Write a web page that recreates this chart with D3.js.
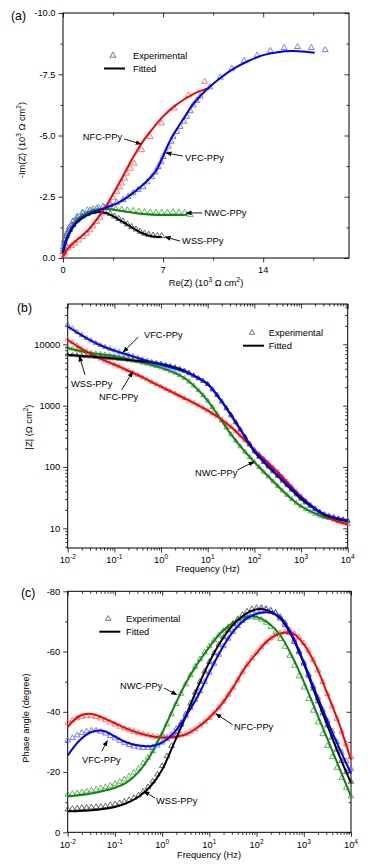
<!DOCTYPE html>
<html>
<head>
<meta charset="utf-8">
<script src="https://cdn.jsdelivr.net/npm/d3@7"></script>
<style>
body { margin: 0; background: #fff; }
svg { display: block; font-family: "Liberation Sans", Arial, sans-serif; }
</style>
</head>
<body>
<div id="chart"></div>
<script>
// ---------- (a) Nyquist, 10^3 ohm cm2, pairs are [Re(Z), -Im(Z)] ----------
var nyqVFCexp = [[0.02,0.46],[0.1,0.75],[0.26,1.0],[0.45,1.25],[0.7,1.48],[1.0,1.65],[1.4,1.83],[1.9,1.95],[2.36,2.03],[2.8,2.1],[3.3,2.16],[3.75,2.26],[4.2,2.37],[4.55,2.5],[4.9,2.65],[5.25,2.78],[5.6,2.9],[5.9,3.1],[6.2,3.31],[6.45,3.5],[6.65,3.72],[6.85,3.92],[7.0,4.13],[7.2,4.35],[7.37,4.55],[7.55,4.75],[7.7,4.95],[7.95,5.15],[8.19,5.36],[8.45,5.57],[8.66,5.77],[8.9,6.0],[9.1,6.24],[9.35,6.42],[9.6,6.6],[10.27,6.97],[11.0,7.37],[11.8,7.73],[12.67,8.05],[13.58,8.27],[14.5,8.46],[15.47,8.58],[16.4,8.62],[17.36,8.58],[18.34,8.49]]
var nyqVFCfit = [[0,0.3],[0.3,0.85],[0.7,1.3],[1.2,1.6],[2,1.85],[3,2.05],[4,2.3],[5,2.7],[5.8,3.1],[6.5,3.55],[7,4.15],[7.5,4.8],[8,5.3],[8.5,5.75],[9,6.2],[9.5,6.55],[10,6.85],[11,7.35],[12,7.75],[13,8.05],[14,8.28],[15,8.4],[16,8.45],[17,8.42],[17.6,8.38]]
var nyqNFCexp = [[0.05,0.1],[0.14,0.2],[0.35,0.4],[0.6,0.5],[0.84,0.6],[1.1,0.72],[1.4,0.87],[1.65,1.0],[1.89,1.14],[2.1,1.3],[2.36,1.48],[2.6,1.65],[2.8,1.83],[3.05,2.05],[3.3,2.24],[3.5,2.45],[3.76,2.71],[3.95,2.9],[4.1,3.05],[4.3,3.25],[4.46,3.45],[4.7,3.65],[4.97,3.86],[5.5,4.41],[6.09,4.95],[6.88,5.5],[7.77,6.11],[8.77,6.65],[9.9,7.2]]
var nyqNFCfit = [[0,0.05],[0.3,0.35],[0.7,0.6],[1.2,0.85],[1.7,1.1],[2.2,1.45],[2.7,1.85],[3.2,2.3],[3.7,2.82],[4.2,3.35],[4.7,3.9],[5.2,4.4],[5.7,4.85],[6.3,5.3],[7,5.78],[7.8,6.2],[8.6,6.52],[9.4,6.77],[10.2,6.93]]
var nyqNWCexp = [[0.02,0.35],[0.1,0.7],[0.25,1.0],[0.45,1.25],[0.7,1.5],[1.0,1.7],[1.35,1.85],[1.7,1.95],[2.1,2.0],[2.5,2.05],[2.9,2.05],[3.3,2.03],[3.7,2.0],[4.1,1.98],[4.5,1.95],[4.9,1.93],[5.3,1.9],[5.7,1.88],[6.1,1.87],[6.5,1.86],[6.9,1.86],[7.3,1.86],[7.7,1.87],[8.1,1.86],[8.5,1.85],[8.9,1.76]]
var nyqNWCfit = [[0,0.3],[0.2,0.75],[0.5,1.15],[0.9,1.5],[1.4,1.75],[2,1.92],[2.6,2.0],[3.2,2.0],[4,1.93],[5,1.84],[6,1.78],[7,1.76],[8,1.76],[8.7,1.77]]
var nyqWSSexp = [[0.02,0.25],[0.1,0.6],[0.25,0.9],[0.45,1.15],[0.7,1.35],[1.0,1.55],[1.35,1.7],[1.7,1.8],[2.1,1.88],[2.5,1.92],[2.9,1.9],[3.3,1.8],[3.6,1.7],[3.9,1.6],[4.2,1.5],[4.5,1.38],[4.8,1.27],[5.1,1.17],[5.4,1.08],[5.7,1.0],[6.0,0.95],[6.3,0.92],[6.6,0.9],[6.9,0.9]]
var nyqWSSfit = [[0,0.2],[0.2,0.65],[0.5,1.05],[0.9,1.4],[1.4,1.65],[2,1.82],[2.6,1.88],[3.1,1.82],[3.6,1.68],[4.1,1.5],[4.6,1.32],[5.1,1.15],[5.6,1.0],[6.1,0.9],[6.6,0.86],[6.9,0.86]]

// ---------- frequency grids, log10(Hz) ----------
var expLogF = [-2,-1.9,-1.8,-1.7,-1.6,-1.5,-1.4,-1.3,-1.2,-1.1,-1,-0.9,-0.8,-0.7,-0.6,-0.5,-0.4,-0.3,-0.2,-0.1,0,0.1,0.2,0.3,0.4,0.5,0.6,0.7,0.8,0.9,1,1.1,1.2,1.3,1.4,1.5,1.6,1.7,1.8,1.9,2,2.1,2.2,2.3,2.4,2.5,2.6,2.7,2.8,2.9,3,3.1,3.2,3.3,3.4,3.5,3.6,3.7,3.8,3.9,4]
var fitLogF = [-2,-1.75,-1.5,-1.25,-1,-0.75,-0.5,-0.25,0,0.25,0.5,0.75,1,1.25,1.5,1.75,2,2.25,2.5,2.75,3,3.25,3.5,3.75,4]

// ---------- (b) |Z|, ohm cm2 ----------
var modVFCexp = [20900,18200,15800,14100,12600,11500,10500,9660,9020,8410,7940,7500,7080,6760,6380,6030,5690,5370,5130,4900,4680,4470,4270,4070,3850,3630,3350,3090,2790,2510,2240,1840,1480,1160,900,692,531,407,313,240,186,151,126,105,88.1,74.1,62.4,52.5,44.2,37.2,31.6,27.2,23.7,20.9,18.6,17.0,16.0,15.3,14.6,14.1,13.6]
var modVFCfit = [19500,14800,11500,9300,7900,6900,6000,5250,4700,4150,3600,2950,2250,1320,690,355,186,115,74,48,32,22.4,17,14.8,13.5]
var modWSSexp = [6760,6680,6610,6460,6380,6310,6240,6170,6030,5960,5890,5750,5690,5560,5430,5370,5250,5130,5010,4900,4790,4570,4420,4220,3980,3720,3430,3090,2790,2510,2240,1840,1500,1170,912,708,537,407,309,234,178,146,120,101,84.1,70.8,59.6,50.1,42.2,35.5,30.2,26.3,22.9,20.4,18.2,16.6,15.7,15.0,14.3,13.8,13.3]
var modWSSfit = [6760,6530,6310,6100,5890,5620,5370,5130,4790,4320,3720,2950,2240,1320,710,355,178,110,71,46,30,21.9,16.6,14.5,13.2]
var modNWCexp = [8910,8510,8130,7760,7500,7240,7080,6920,6760,6610,6460,6240,6030,5750,5500,5250,5010,4840,4620,4420,4170,3940,3670,3430,3130,2820,2450,2110,1780,1480,1200,944,733,569,437,339,269,216,176,145,120,100,83.2,70.0,58.2,49.0,41.2,35.1,29.9,26.0,22.9,20.4,18.6,17.2,16.0,15.1,14.6,14.1,13.8,13.5,13.2]
var modNWCfit = [8700,7850,7250,6840,6460,5890,5250,4730,4170,3550,2820,1950,1200,645,340,195,120,76,49,32.4,22.9,18.2,15.1,13.8,13.2]
var modNFCexp = [12000,10700,9550,8510,7670,6920,6310,5820,5370,5010,4680,4320,3980,3720,3430,3160,2880,2660,2430,2240,2040,1860,1720,1570,1450,1320,1200,1110,1010,923,832,750,676,596,519,447,380,324,272,229,191,162,136,116,97.7,83.2,69.2,57.5,47.9,39.8,33.1,28.2,24.3,21.1,18.4,16.2,14.8,13.8,13.0,12.3,11.7]
var modNFCfit = [11750,8900,6900,5620,4680,3850,3160,2540,2040,1640,1320,1060,830,630,447,295,190,126,83,52,33,22.4,16.2,13.2,11.7]

// ---------- (c) phase angle, degrees (plotted as negative) ----------
var phVFCexp = [30.5,31.3,32.2,33.0,33.5,33.8,33.8,33.4,32.8,32.0,31.2,30.4,29.6,29.0,28.5,28.2,28.0,28.0,28.2,28.8,29.8,31.0,32.5,34.4,36.4,38.6,41.3,44.0,46.9,50.0,53.0,56.0,59.0,61.8,64.3,66.6,68.5,70.2,71.6,72.7,73.5,73.9,74.0,73.7,72.9,71.6,69.6,67.0,63.8,60.2,56.4,52.5,48.5,44.6,40.7,37.0,33.5,30.0,26.6,23.6,21.0]
var phVFCfit = [25.5,30.5,33.3,33.7,31.8,29.8,28.8,28.6,29.8,33.0,38.5,45.0,53.0,60.5,66.5,70.5,72.5,73.0,71.5,65.5,56.5,46.5,37.0,28.0,19.5]
var phWSSexp = [7.6,7.8,8.0,8.1,8.2,8.3,8.4,8.5,8.7,9.0,9.3,9.7,10.2,10.7,11.4,12.3,13.5,15.0,16.9,19.2,22.0,25.3,28.7,32.2,35.7,39.2,42.8,46.4,50.0,53.4,56.6,59.5,62.3,64.8,67.1,69.1,70.8,72.2,73.3,74.1,74.5,74.5,74.2,73.6,72.8,71.0,68.8,66.2,63.2,59.8,56.0,52.0,47.7,43.5,39.5,35.5,31.5,27.5,23.7,20.0,16.8]
var phWSSfit = [7.0,7.1,7.3,7.7,8.4,9.7,11.8,15.2,20.8,29.5,38.5,48.0,56.5,63.5,68.8,72.3,74.0,73.6,71.0,65.0,56.0,45.5,35.5,25.5,16.4]
var phNWCexp = [12.5,12.8,13.0,13.3,13.6,13.9,14.2,14.6,15.0,15.5,16.1,16.8,17.6,18.6,19.8,21.2,22.9,24.8,27.0,29.6,32.5,35.8,39.2,42.6,46.0,49.2,52.2,55.0,57.5,59.8,61.8,63.7,65.4,66.9,68.2,69.3,70.2,70.9,71.3,71.4,71.2,70.6,69.6,68.2,66.4,64.2,61.6,58.6,55.3,51.8,48.1,44.3,40.4,36.5,32.6,28.7,25.0,21.4,18.0,14.8,11.9]
var phNWCfit = [11.9,12.3,12.9,13.7,14.8,16.6,20.0,25.5,33.0,41.5,49.5,56.0,61.5,66.3,69.5,71.5,71.5,69.5,65.5,58.5,50.0,40.5,31.0,21.5,11.9]
var phNFCexp = [36.3,37.2,37.9,38.4,38.6,38.6,38.3,37.8,37.2,36.5,35.8,35.1,34.5,33.9,33.4,33.0,32.6,32.2,31.9,31.7,31.6,31.6,31.7,31.9,32.2,32.6,33.4,34.3,35.5,36.7,38.0,39.6,41.4,43.4,45.7,48.0,50.6,53.2,55.7,57.8,59.7,61.5,63.1,64.4,65.4,66.1,66.5,66.5,65.9,64.7,62.8,60.3,57.2,53.7,49.9,45.9,41.8,37.6,33.4,29.2,25.0]
var phNFCfit = [35.0,38.6,39.3,38.0,36.2,34.4,33.0,32.0,31.5,31.6,32.5,34.8,38.0,42.3,48.0,54.5,59.5,63.8,66.0,66.2,62.5,55.5,46.0,36.0,24.0]

// ---------- labels / annotations (data units) ----------
var nyqXTicks = [0, 7, 14]
var nyqYTicks = [0, 2.5, 5, 7.5, 10]
var phaseYTicks = [0, 20, 40, 60, 80]
var modYTicks = [10, 100, 1000, 10000]
var nyqNotes = [
  {text: "NFC-PPy", tx: 4.13, ty: 4.94, anchor: "end", x1: 4.27, y1: 4.86, x2: 5.46, y2: 4.65},
  {text: "VFC-PPy", tx: 8.54, ty: 4.08, anchor: "start", x1: 8.4, y1: 4.16, x2: 7.21, y2: 4.29},
  {text: "NWC-PPy", tx: 9.87, ty: 1.84, anchor: "start", x1: 9.73, y1: 1.84, x2: 8.61, y2: 1.84},
  {text: "WSS-PPy", tx: 8.33, ty: 0.69, anchor: "start", x1: 8.19, y1: 0.69, x2: 7.14, y2: 0.86}
]
var modNotes = [
  {text: "VFC-PPy", tx: 0.431, ty: 14200, anchor: "start", x1: 0.326, y1: 13160, x2: 0.155, y2: 7480},
  {text: "WSS-PPy", tx: 0.0118, ty: 2310, anchor: "start", x1: 0.0235, y1: 3160, x2: 0.0177, y2: 6440},
  {text: "NFC-PPy", tx: 0.0469, ty: 1380, anchor: "start", x1: 0.1435, y1: 1800, x2: 0.247, y2: 3570},
  {text: "NWC-PPy", tx: 5.35, ty: 79.6, anchor: "start", x1: 43.1, y1: 89, x2: 98.2, y2: 122}
]
var phNotes = [
  {text: "NWC-PPy", tx: 0.128, ty: 48.5, anchor: "start", x1: 1.094, y1: 47.9, x2: 2.03, y2: 45.7},
  {text: "NFC-PPy", tx: 33.3, ty: 35.2, anchor: "start", x1: 31.2, y1: 35.7, x2: 13.8, y2: 39.3},
  {text: "VFC-PPy", tx: 0.0201, ty: 24.1, anchor: "start", x1: 0.0525, y1: 26.9, x2: 0.069, y2: 30.4},
  {text: "WSS-PPy", tx: 0.741, ty: 10.5, anchor: "start", x1: 0.706, y1: 11.4, x2: 0.413, y2: 13.6}
]

var lineColour = {VFC: "#0000ff", NFC: "#ff0000", NWC: "#0a8a0a", WSS: "#000000"}
var markColour = {VFC: "#5a5aff", NFC: "#ff5a5a", NWC: "#3fa03f", WSS: "#444444"}
var FS = 9.3

var svg = d3.select("#chart").append("svg").attr("width", 369).attr("height", 868)

svg.append("defs").append("marker")
    .attr("id", "arrow")
    .attr("viewBox", "0 0 10 10")
    .attr("refX", 9).attr("refY", 5)
    .attr("markerWidth", 6).attr("markerHeight", 6)
    .attr("markerUnits", "userSpaceOnUse")
    .attr("orient", "auto")
    .append("path").attr("d", "M0,1L10,5L0,9Z").attr("fill", "#000")

function logTicks(lo, hi, dlo, dhi) {
    var major = [], minor = []
    for (var e = lo; e <= hi; e++) {
        var p = Math.pow(10, e)
        major.push(p)
        for (var k = 2; k < 10; k++) minor.push(k * p)
    }
    for (var k = 1; k < 10; k++) minor.push(k * Math.pow(10, lo - 1))
    minor = minor.filter(function(v) { return v >= dlo && v <= dhi })
    major = major.filter(function(v) { return v >= dlo && v <= dhi })
    return {major: major, minor: minor}
}

function drawTicks(g, x, y, xt, yt) {
    var xr = x.range(), yr = y.range()
    var sides = [
        {make: d3.axisBottom, s: x, t: "translate(0," + yr[0] + ")", sign: 1, v: xt},
        {make: d3.axisTop, s: x, t: "translate(0," + yr[1] + ")", sign: -1, v: xt},
        {make: d3.axisLeft, s: y, t: "translate(" + xr[0] + ",0)", sign: 1, v: yt},
        {make: d3.axisRight, s: y, t: "translate(" + xr[1] + ",0)", sign: -1, v: yt}
    ]
    sides.forEach(function(sd) {
        [[sd.v.major, 4.5], [sd.v.minor, 2.5]].forEach(function(p) {
            var ax = sd.make(sd.s).tickValues(p[0]).tickSize(p[1] * sd.sign).tickFormat("")
            var a = g.append("g").attr("transform", sd.t).call(ax)
            a.select(".domain").remove()
            a.selectAll("line").attr("stroke", "#000").attr("stroke-width", 0.8)
        })
    })
    g.append("rect")
        .attr("x", xr[0]).attr("y", yr[1])
        .attr("width", xr[1] - xr[0]).attr("height", yr[0] - yr[1])
        .attr("fill", "none").attr("stroke", "#000").attr("stroke-width", 1)
}

function richText(sel, parts, size) {
    // parts: [string, isSuperscript]
    var shift = 0
    parts.forEach(function(p) {
        var want = p[1] ? -3.6 : 0
        sel.append("tspan")
            .attr("dy", want - shift)
            .style("font-size", (p[1] ? size * 0.7 : size) + "px")
            .text(p[0])
        shift = want
    })
}

function xTitle(g, cx, cy, parts) {
    var t = g.append("text").attr("x", cx).attr("y", cy).attr("dy", "0.35em")
        .attr("text-anchor", "middle").style("font-size", FS + "px")
    richText(t, parts, FS)
}

function yTitle(g, cx, cy, parts) {
    var t = g.append("text").attr("transform", "translate(" + cx + "," + cy + ") rotate(-90)")
        .attr("dy", "0.35em").attr("text-anchor", "middle").style("font-size", FS + "px")
    richText(t, parts, FS)
}

function panelLetter(g, x, y, s) {
    g.append("text").attr("x", x).attr("y", y).attr("dy", "0.35em")
        .style("font-size", "12.3px").text(s)
}

function logXLabels(g, x, y0) {
    [-2, -1, 0, 1, 2, 3, 4].forEach(function(e) {
        var t = g.append("text").attr("x", x(Math.pow(10, e))).attr("y", y0)
            .attr("text-anchor", "middle").style("font-size", FS + "px")
        richText(t, [["10", 0], [String(e), 1]], FS)
    })
}

function yLabels(g, y, xr, vals, fmt) {
    g.selectAll(null).data(vals).enter().append("text")
        .attr("x", xr - 7.5).attr("y", function(d) { return y(d) })
        .attr("dy", "0.35em").attr("text-anchor", "end")
        .style("font-size", FS + "px").text(fmt)
}

function markers(g, pts, colour, size) {
    var sym = d3.symbol(d3.symbolTriangle, size)
    g.append("g").selectAll("path").data(pts).enter().append("path")
        .attr("d", sym)
        .attr("transform", function(d) { return "translate(" + d[0] + "," + d[1] + ")" })
        .attr("fill", "none").attr("stroke", colour).attr("stroke-width", 0.8)
}

function fitLine(g, pts, colour) {
    g.append("path").datum(pts)
        .attr("d", d3.line().curve(d3.curveCatmullRom.alpha(0.5)))
        .attr("fill", "none").attr("stroke", colour).attr("stroke-width", 2)
}

function notes(g, x, y, list) {
    list.forEach(function(n) {
        g.append("line")
            .attr("x1", x(n.x1)).attr("y1", y(n.y1)).attr("x2", x(n.x2)).attr("y2", y(n.y2))
            .attr("stroke", "#000").attr("stroke-width", 0.9).attr("marker-end", "url(#arrow)")
        g.append("text").attr("x", x(n.tx)).attr("y", y(n.ty)).attr("dy", "0.35em")
            .attr("text-anchor", n.anchor).style("font-size", FS + "px").text(n.text)
    })
}

function legend(g, lx, ly, tx, size) {
    markers(g, [[lx, ly]], "#555", size)
    g.append("text").attr("x", tx).attr("y", ly).attr("dy", "0.35em").style("font-size", FS + "px").text("Experimental")
    g.append("line").attr("x1", lx - 9).attr("x2", lx + 12).attr("y1", ly + 13).attr("y2", ly + 13)
        .attr("stroke", "#000").attr("stroke-width", 2)
    g.append("text").attr("x", tx).attr("y", ly + 13).attr("dy", "0.35em").style("font-size", FS + "px").text("Fitted")
}

// ===================== (a) =====================
;(function() {
    var g = svg.append("g")
    var x = d3.scaleLinear().domain([0, 20]).range([63, 349])
    var y = d3.scaleLinear().domain([0, 10]).range([258, 13])
    drawTicks(g, x, y, {major: nyqXTicks, minor: [3.5, 10.5, 17.5]},
        {major: nyqYTicks, minor: [1.25, 3.75, 6.25, 8.75]})

    var sets = [
        ["NWC", nyqNWCexp, nyqNWCfit], ["WSS", nyqWSSexp, nyqWSSfit],
        ["NFC", nyqNFCexp, nyqNFCfit], ["VFC", nyqVFCexp, nyqVFCfit]
    ]
    sets.forEach(function(s) {
        markers(g, s[1].map(function(d) { return [x(d[0]), y(d[1])] }), markColour[s[0]], 15)
    })
    sets.forEach(function(s) {
        fitLine(g, s[2].map(function(d) { return [x(d[0]), y(d[1])] }), lineColour[s[0]])
    })

    g.selectAll(null).data(nyqXTicks).enter().append("text")
        .attr("x", function(d) { return x(d) }).attr("y", 270).attr("dy", "0.35em")
        .attr("text-anchor", "middle").style("font-size", FS + "px").text(function(d) { return d })
    yLabels(g, y, 63, nyqYTicks, function(d) { return d === 0 ? "0.0" : "-" + d.toFixed(1) })
    xTitle(g, 206, 285.5, [["Re(Z) (10", 0], ["3", 1], [" \u03A9 cm", 0], ["2", 1], [")", 0]])
    yTitle(g, 25, 140, [["-Im(Z) (10", 0], ["3", 1], [" \u03A9 cm", 0], ["2", 1], [")", 0]])
    notes(g, x, y, nyqNotes)
    legend(g, 113, 55.5, 133, 15)
    panelLetter(g, 11, 16, "(a)")
})()

// ===================== (b) =====================
;(function() {
    var g = svg.append("g")
    var x = d3.scaleLog().domain([1e-2, 1e4]).range([67.7, 347.7])
    var y = d3.scaleLog().domain([4.78, 45400]).range([548, 304])
    drawTicks(g, x, y, logTicks(-2, 4, 1e-2, 1e4), logTicks(1, 4, 4.78, 45400))

    var sets = [
        ["NWC", modNWCexp, modNWCfit], ["NFC", modNFCexp, modNFCfit],
        ["WSS", modWSSexp, modWSSfit], ["VFC", modVFCexp, modVFCfit]
    ]
    sets.forEach(function(s) {
        markers(g, s[1].map(function(v, i) { return [x(Math.pow(10, expLogF[i])), y(v)] }), markColour[s[0]], 9.5)
    })
    sets.forEach(function(s) {
        fitLine(g, s[2].map(function(v, i) { return [x(Math.pow(10, fitLogF[i])), y(v)] }), lineColour[s[0]])
    })

    logXLabels(g, x, 562.5)
    yLabels(g, y, 67.7, modYTicks, function(d) { return d })
    xTitle(g, 207.7, 571.7, [["Frequency (Hz)", 0]])
    yTitle(g, 32, 427, [["|Z| (\u03A9 cm", 0], ["2", 1], [")", 0]])
    notes(g, x, y, modNotes)
    legend(g, 252, 332.7, 268.7, 13)
    panelLetter(g, 17, 307.5, "(b)")
})()

// ===================== (c) =====================
;(function() {
    var g = svg.append("g")
    var x = d3.scaleLog().domain([1e-2, 1e4]).range([67.7, 351])
    var y = d3.scaleLinear().domain([0, 80]).range([832.3, 591.3])
    drawTicks(g, x, y, logTicks(-2, 4, 1e-2, 1e4), {major: phaseYTicks, minor: [10, 30, 50, 70]})

    var sets = [
        ["NFC", phNFCexp, phNFCfit], ["NWC", phNWCexp, phNWCfit],
        ["WSS", phWSSexp, phWSSfit], ["VFC", phVFCexp, phVFCfit]
    ]
    sets.forEach(function(s) {
        markers(g, s[1].map(function(v, i) { return [x(Math.pow(10, expLogF[i])), y(v)] }), markColour[s[0]], 13)
    })
    sets.forEach(function(s) {
        fitLine(g, s[2].map(function(v, i) { return [x(Math.pow(10, fitLogF[i])), y(v)] }), lineColour[s[0]])
    })

    logXLabels(g, x, 847.5)
    yLabels(g, y, 67.7, phaseYTicks, function(d) { return d === 0 ? "0" : "-" + d })
    xTitle(g, 209, 858.3, [["Frequency (Hz)", 0]])
    yTitle(g, 29, 718, [["Phase angle (degree)", 0]])
    notes(g, x, y, phNotes)
    legend(g, 108.3, 618.7, 126, 13)
    panelLetter(g, 21, 593, "(c)")
})()
</script>
</body>
</html>
